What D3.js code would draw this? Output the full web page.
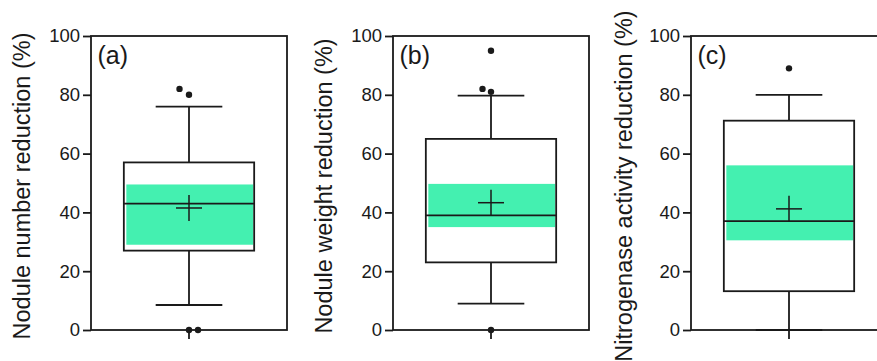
<!DOCTYPE html>
<html>
<head>
<meta charset="utf-8">
<script src="https://cdn.jsdelivr.net/npm/d3@7"></script>
<style>
  html, body { margin: 0; padding: 0; background: #fff; }
  svg { display: block; }
  text { font-family: Arial, "Liberation Sans", Helvetica, sans-serif; fill: #1a1a1a; }
</style>
</head>
<body>
<svg id="chart" width="877" height="361"></svg>
<script>
// ---- data ----
const panelLetters = ["(a)", "(b)", "(c)"];
const yLabels = ["Nodule number reduction (%)", "Nodule weight reduction (%)", "Nitrogenase activity reduction (%)"];
const yTicks = [0, 20, 40, 60, 80, 100];
const whiskerLow  = [8.5, 9, 0];
const q1          = [27, 23, 13.2];
const medians     = [43, 39, 37];
const q3          = [57, 65, 71.2];
const whiskerHigh = [76, 79.7, 80];
const means       = [41.5, 43.3, 41.2];
const ciLow       = [29, 35, 30.5];
const ciHigh      = [49.5, 49.7, 56];
const outliers    = [[82, 80, 0, 0], [95, 82, 81, 0], [89]];
// horizontal jitter of outlier dots (px), layout only
const outlierJitter = [[-9.5, 0, 0, 9], [0, -8.5, 0, 0], [0]];

// ---- layout ----
const panelLeft = [91, 393, 691];
const panelWidth = 196;
const plotTop = 36, plotBottom = 330;
const labelX = [30, 332, 632];
const labelY = 186;
const ink = "#1a1a1a";
const green = "#44f0b0";

const svg = d3.select("#chart");
const y = d3.scaleLinear().domain([0, 100]).range([plotBottom, plotTop]);

panelLetters.forEach((letter, i) => {
  const L = panelLeft[i];
  const x = d3.scaleBand().domain([letter]).range([L, L + panelWidth]).paddingInner(0).paddingOuter(0);
  const cx = x(letter) + x.bandwidth() / 2;
  const boxW = x.bandwidth() * 0.665;
  const capW = x.bandwidth() * 0.34;
  const g = svg.append("g");

  // y label
  g.append("text")
    .attr("transform", `translate(${labelX[i]},${labelY}) rotate(-90)`)
    .attr("text-anchor", "middle")
    .style("font-size", "23.5px")
    .text(yLabels[i]);

  // y axis ticks
  const axis = d3.axisLeft(y).tickValues(yTicks).tickSize(8).tickPadding(3).tickFormat(d3.format("d"));
  const ag = g.append("g").attr("transform", `translate(${L},0)`).call(axis);
  ag.select(".domain").remove();
  ag.selectAll(".tick line").attr("stroke", ink).attr("stroke-width", 1.8);
  ag.selectAll(".tick text").style("font-size", "18.5px").style("font-family", "Arial, 'Liberation Sans', sans-serif").attr("fill", ink);

  // x tick below axis
  g.append("line").attr("x1", cx).attr("x2", cx).attr("y1", plotBottom).attr("y2", plotBottom + 9)
    .attr("stroke", ink).attr("stroke-width", 1.8);

  // whiskers
  g.append("line").attr("x1", cx).attr("x2", cx).attr("y1", y(whiskerLow[i])).attr("y2", y(q1[i]))
    .attr("stroke", ink).attr("stroke-width", 1.8);
  g.append("line").attr("x1", cx).attr("x2", cx).attr("y1", y(q3[i])).attr("y2", y(whiskerHigh[i]))
    .attr("stroke", ink).attr("stroke-width", 1.8);
  [whiskerLow[i], whiskerHigh[i]].forEach(v => {
    g.append("line").attr("x1", cx - capW / 2).attr("x2", cx + capW / 2).attr("y1", y(v)).attr("y2", y(v))
      .attr("stroke", ink).attr("stroke-width", 1.8);
  });

  // box
  g.append("rect").attr("x", cx - boxW / 2).attr("y", y(q3[i])).attr("width", boxW).attr("height", y(q1[i]) - y(q3[i]))
    .attr("fill", "#fff");
  // CI band
  g.append("rect").attr("x", cx - boxW / 2 + 2.5).attr("y", y(ciHigh[i])).attr("width", boxW - 3.5)
    .attr("height", y(ciLow[i]) - y(ciHigh[i])).attr("fill", green);
  g.append("rect").attr("x", cx - boxW / 2).attr("y", y(q3[i])).attr("width", boxW).attr("height", y(q1[i]) - y(q3[i]))
    .attr("fill", "none").attr("stroke", ink).attr("stroke-width", 1.8);
  // median
  g.append("line").attr("x1", cx - boxW / 2).attr("x2", cx + boxW / 2).attr("y1", y(medians[i])).attr("y2", y(medians[i]))
    .attr("stroke", ink).attr("stroke-width", 1.8);
  // mean cross
  const ym = y(means[i]);
  g.append("line").attr("x1", cx - 13).attr("x2", cx + 13).attr("y1", ym).attr("y2", ym).attr("stroke", ink).attr("stroke-width", 1.5);
  g.append("line").attr("x1", cx).attr("x2", cx).attr("y1", ym - 13).attr("y2", ym + 13).attr("stroke", ink).attr("stroke-width", 1.5);

  // frame
  g.append("rect").attr("x", L).attr("y", plotTop).attr("width", panelWidth).attr("height", plotBottom - plotTop)
    .attr("fill", "none").attr("stroke", ink).attr("stroke-width", 1.8);

  // outliers
  outliers[i].forEach((v, k) => {
    g.append("circle").attr("cx", cx + outlierJitter[i][k]).attr("cy", y(v)).attr("r", 3.2).attr("fill", ink);
  });

  // panel letter
  g.append("text").attr("x", L + 6.5).attr("y", 64).style("font-size", "25px").text(letter);
});
</script>
</body>
</html>
